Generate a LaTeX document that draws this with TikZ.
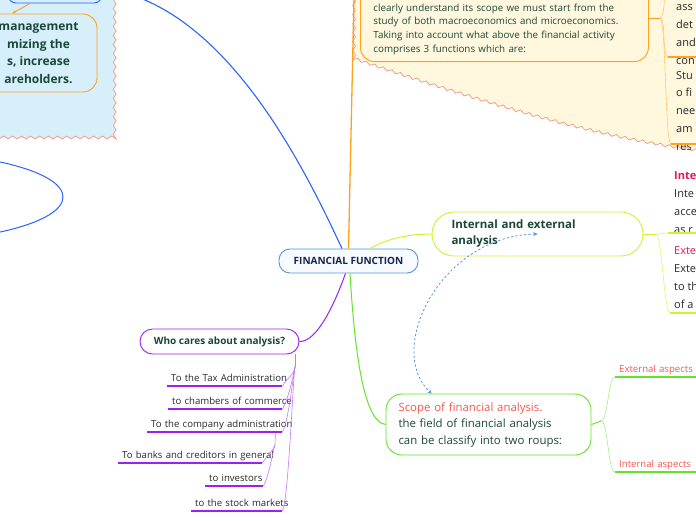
\documentclass[tikz,border=0pt]{standalone}
\usepackage{fontspec}
\setmainfont{Open Sans}
\usetikzlibrary{shapes.geometric, arrows.meta, positioning, calc, decorations.pathmorphing}
\definecolor{mmblue}{RGB}{41,98,255}
\definecolor{ctrblue}{RGB}{80,150,220}
\definecolor{ctrfill}{RGB}{247,251,255}
\definecolor{mmorange}{RGB}{255,160,30}
\definecolor{twigorange}{RGB}{255,200,110}
\definecolor{mmlime}{RGB}{212,240,50}
\definecolor{twiglime}{RGB}{225,245,110}
\definecolor{mmpurple}{RGB}{160,30,240}
\definecolor{twigpurple}{RGB}{195,120,245}
\definecolor{mmgreen}{RGB}{100,228,40}
\definecolor{twiggreen}{RGB}{165,240,130}
\definecolor{wavered}{RGB}{238,160,135}
\definecolor{skyfill}{RGB}{214,239,250}
\definecolor{creamfill}{RGB}{255,248,222}
\definecolor{deepgreen}{RGB}{25,72,55}
\definecolor{navytxt}{RGB}{22,36,78}
\definecolor{salmontxt}{RGB}{240,88,78}
\definecolor{pinktxt}{RGB}{228,20,88}
\definecolor{leaftxt}{RGB}{40,40,40}
\definecolor{dotblue}{RGB}{80,150,230}
\tikzset{
  wavezone/.style={draw=wavered, line width=0.8pt, decorate,
    decoration={snake, segment length=9pt, amplitude=1.4pt}},
  topic/.style={rectangle, fill=white, line width=0.9pt, align=left,
    font=\fontsize{11.5}{16}\selectfont\bfseries, text=deepgreen},
  leaf/.style={rectangle, anchor=south west, inner xsep=4pt, inner ysep=2pt,
    text depth=2pt, align=left, font=\fontsize{9.6}{11}\selectfont, text=leaftxt},
  edgetxt/.style={anchor=base west, inner sep=0pt, align=left,
    font=\fontsize{11}{17.7}\selectfont, text=leaftxt},
  uline/.style={line width=1.3pt},
  twig/.style={line width=0.6pt}
}
\begin{document}
\begin{tikzpicture}[x=1pt, y=-1pt]
  \useasboundingbox (0,0) rectangle (696,520);

  % Zones
  \path[wavezone, fill=skyfill] (-20,-20) -- (110,-20) -- (110,137) -- (-20,137) -- cycle;
  \path[wavezone, fill=creamfill] (720,-20) -- (354,-20) -- (354,58)
    .. controls (480,100) and (600,140) .. (720,153) -- cycle;

  % Nodes
  \node[rectangle, draw=ctrblue, fill=ctrfill, rounded corners=11pt, line width=0.9pt,
    minimum width=139pt, minimum height=24pt,
    font=\fontsize{10}{12}\selectfont\bfseries, text=navytxt] (fin) at (348.5,261) {FINANCIAL FUNCTION};

  \node[rectangle, draw=mmblue, fill=skyfill, rounded corners=8pt, line width=0.9pt,
    minimum width=94pt, minimum height=26pt] (topblue) at (55,-10) {};
  \node[rectangle, draw=mmorange, fill=skyfill, rounded corners=14pt, line width=0.9pt,
    minimum width=117pt, minimum height=78pt, align=center,
    font=\fontsize{12}{17.7}\selectfont\bfseries, text=deepgreen] (mgmt) at (38.5,53)
    {management\\mizing the\\s, increase\\areholders.};
  \node[ellipse, draw=mmblue, line width=1pt, minimum width=338pt, minimum height=90pt] (oval) at (-106,197) {};

  \node[rectangle, draw=mmorange, fill=creamfill, rounded corners=14pt, line width=0.9pt,
    anchor=south west, text width=262pt, inner xsep=13pt, inner ysep=7pt, align=left,
    font=\fontsize{9.8}{13.7}\selectfont, text=deepgreen] (intro) at (360,62)
    {\rule{0pt}{40pt}clearly understand its scope we must start from the\\
     study of both macroeconomics and microeconomics.\\
     Taking into account what above the financial activity\\
     comprises 3 functions which are:};
  \node[edgetxt] (assess) at (676,64) {ass\\det\\and\\con};
  \node[edgetxt] (study) at (676,150) {Stu\\o fi\\nee\\am\\res};

  \node[topic, draw=mmlime, rounded corners=22pt, minimum width=211pt, minimum height=44pt,
    text width=172pt, inner xsep=18pt] (iea) at (537.5,234) {Internal and external\\analysis};
  \node[edgetxt] (intl) at (674,233) {\textbf{\textcolor{pinktxt}{Inte}}\\Inte\\acce\\as r};
  \node[edgetxt] (extl) at (674,308) {\textcolor{pinktxt}{Exte}\\Exte\\to th\\of a};

  \node[topic, draw=mmpurple, rounded corners=12.5pt, minimum width=159pt, minimum height=25pt,
    align=center, font=\fontsize{10}{12}\selectfont\bfseries] (who) at (219.5,341.5) {Who cares about analysis?};
  \node[leaf, text width=107pt] (tax) at (167,386) {\makebox[0pt][l]{To the Tax Administration}};
  \node[leaf, text width=106pt] (cham) at (168,409) {\makebox[0pt][l]{to chambers of commerce}};
  \node[leaf, text width=127pt] (comp) at (147,432) {\makebox[0pt][l]{To the company administration}};
  \node[leaf, text width=136pt] (bank) at (118,463) {\makebox[0pt][l]{To banks and creditors in general}};
  \node[leaf, text width=50pt] (inv) at (205,486) {\makebox[0pt][l]{to investors}};
  \node[leaf, text width=83pt] (stock) at (191,511) {\makebox[0pt][l]{to the stock markets}};

  \node[topic, draw=mmgreen, rounded corners=16pt, minimum width=205pt, minimum height=61pt,
    text width=180pt, inner xsep=12pt, font=\fontsize{11.4}{16.5}\selectfont] (scope) at (488.5,424.5)
    {\textcolor{salmontxt}{Scope of financial analysis.}\\the field of financial analysis\\can be classify into two roups:};
  \node[leaf, text width=92pt, text=salmontxt] (extasp) at (615,377) {\makebox[0pt][l]{External aspects}};
  \node[leaf, text width=92pt, text=salmontxt] (intasp) at (615,472) {\makebox[0pt][l]{Internal aspects}};

  % Junctions
  \coordinate (offblue) at (140,-2);
  \coordinate (offorange) at (354,-3);
  \coordinate (offup) at (664,-8);
  \coordinate (j1) at (660,18);
  \coordinate (assess-u) at (668,57);
  \coordinate (study-u) at (671,144);
  \coordinate (j2) at (656,234);
  \coordinate (intl-u) at (668,233);
  \coordinate (extl-u) at (670,313);
  \coordinate (wj) at (295,367);
  \coordinate (cj) at (275,445);
  \coordinate (sj) at (601,421);

  % Connections
  \draw[mmblue, line width=1.1pt] ($(fin.north)+(-6.5,0)$) .. controls (310,180) and (242,38) .. (offblue);
  \draw[mmorange, line width=1.3pt] (fin.north) -- (offorange);
  \draw[mmorange, line width=0.9pt, -{Stealth[length=4pt]}] ($(topblue.south)+(-25,0)$) -- ($(mgmt.north)+(-26.5,0)$);

  \draw[mmorange, line width=1pt] (intro.east |- j1) -- (j1);
  \draw[twig, twigorange] (j1) .. controls +(4,0) and +(1,5) .. (offup);
  \draw[twig, twigorange] (j1) .. controls +(6,0) and +(-6,0) .. (assess-u);
  \draw[twig, twigorange] (j1) .. controls +(6,0) and +(-6,0) .. (study-u);
  \draw[uline, mmorange] (assess-u) -- ++(40,0);
  \draw[uline, mmorange] (study-u) -- ++(40,0);

  \draw[mmlime, line width=1pt] ($(fin.north)+(21.5,0)$) .. controls (385,240) and (405,234) .. (iea.west);
  \draw[mmlime, line width=0.9pt] (iea.east) -- (j2);
  \draw[twig, twiglime] (j2) .. controls +(5,0) and +(-5,0) .. (intl-u);
  \draw[twig, twiglime] (j2) .. controls +(6,0) and +(-6,0) .. (extl-u);
  \draw[uline, mmlime] (intl-u) -- ++(40,0);
  \draw[uline, mmlime] (extl-u) -- ++(40,0);

  \draw[mmpurple, line width=1pt] ($(fin.south)+(-3,0)$) .. controls (336,300) and (318,342) .. (who.east);
  \draw[twig, twigpurple] (who.south east -| wj) -- (wj);
  \foreach \leafname in {tax, cham, comp, stock}
    \draw[twig, twigpurple] (wj) .. controls +(-2,10) and +(6,-10) .. (\leafname.south east);
  \draw[twig, twigpurple] ($(comp.south east)+(-7,0)$) -- (cj);
  \foreach \leafname in {bank, inv}
    \draw[twig, twigpurple] (cj) .. controls +(-2,6) and +(5,-8) .. (\leafname.south east);
  \foreach \leafname in {tax, cham, comp, bank, inv, stock}
    \draw[uline, mmpurple] (\leafname.south west) -- (\leafname.south east);

  \draw[mmgreen, line width=1pt] ($(fin.south)+(1.5,0)$) .. controls (354,340) and (362,422) .. (scope.west);
  \draw[mmgreen, line width=0.9pt] (scope.east) -- (sj);
  \draw[twig, twiggreen] (sj) .. controls +(7,0) and +(-7,0) .. (extasp.south west);
  \draw[twig, twiggreen] (sj) .. controls +(7,0) and +(-7,0) .. (intasp.south west);
  \draw[uline, mmgreen] (extasp.south west) -- (extasp.south east);
  \draw[uline, mmgreen] (intasp.south west) -- (intasp.south east);

  \draw[dotblue, line width=0.8pt, dash pattern=on 2.2pt off 2.2pt,
    {Stealth[length=4pt,width=4pt]}-{Stealth[length=4pt,width=4pt]}]
    (iea.center) .. controls (440,236) and (385,350) .. ($(scope.north west)+(46,0)$);
\end{tikzpicture}
\end{document}
